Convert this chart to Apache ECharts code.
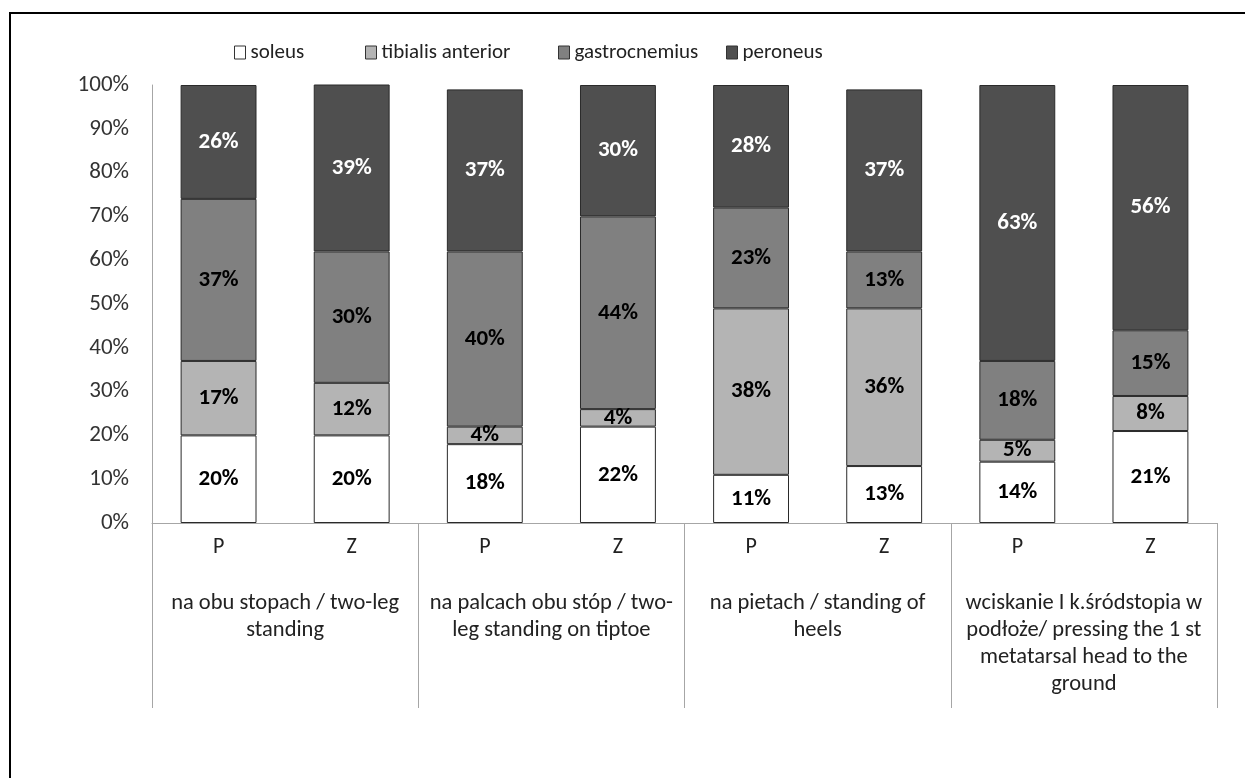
<!DOCTYPE html>
<html>
<head>
<meta charset="utf-8">
<script src="https://cdn.jsdelivr.net/npm/echarts@6/dist/echarts.min.js"></script>
<style>
html,body{margin:0;padding:0;background:#fff;}
#c{width:1245px;height:778px;}
</style>
</head>
<body>
<div id="c"></div>
<script>
const sides = ['P', 'Z', 'P', 'Z', 'P', 'Z', 'P', 'Z'];
const groups = [
  'na obu stopach / two-leg\nstanding',
  'na palcach obu stóp / two-\nleg standing on tiptoe',
  'na pietach / standing of\nheels',
  'wciskanie I k.śródstopia w\npodłoże/ pressing the 1 st\nmetatarsal head to the\nground'
];
const seriesNames = ['soleus', 'tibialis anterior', 'gastrocnemius', 'peroneus'];
const soleus = [20, 20, 18, 22, 11, 13, 14, 21];
const tibialis = [17, 12, 4, 4, 38, 36, 5, 8];
const gastrocnemius = [37, 30, 40, 44, 23, 13, 18, 15];
const peroneus = [26, 39, 37, 30, 28, 37, 63, 56];

const FONT = 'Carlito, Lato, sans-serif';
const colors = ['#ffffff', '#b4b4b4', '#808080', '#4f4f4f'];
const labelColors = ['#000', '#000', '#000', '#fff'];
const values = [soleus, tibialis, gastrocnemius, peroneus];
const legendLefts = [229, 360, 553, 721];

const chart = echarts.init(document.getElementById('c'), null, {renderer: 'canvas'});
chart.setOption({
  backgroundColor: '#fff',
  animation: false,
  graphic: [{
    type: 'rect',
    shape: {x: 10, y: 13, width: 1300, height: 900},
    style: {fill: 'none', stroke: '#000', lineWidth: 2},
    silent: true
  }],
  legend: seriesNames.map((n, i) => ({
    top: 37,
    left: legendLefts[i],
    itemWidth: 11,
    itemHeight: 13,
    icon: 'rect',
    textStyle: {fontFamily: FONT, fontSize: 21, color: '#222', padding: [0, 0, 0, 0]},
    data: [{name: n, itemStyle: {borderColor: '#333', borderWidth: 1}}]
  })),
  grid: {left: 152, right: 28, top: 85, bottom: 255, containLabel: false},
  xAxis: [{
    type: 'category',
    data: sides,
    position: 'bottom',
    axisLine: {show: true, lineStyle: {color: '#a6a6a6', width: 1}},
    axisTick: {show: false},
    axisLabel: {fontFamily: FONT, fontSize: 22, color: '#222', margin: 12, lineHeight: 24}
  }, {
    type: 'category',
    data: groups,
    position: 'bottom',
    axisLine: {show: false},
    axisTick: {show: true, length: 185, lineStyle: {color: '#a6a6a6', width: 1}},
    axisLabel: {fontFamily: FONT, fontSize: 22.5, color: '#222', margin: 67, lineHeight: 27, align: 'center', interval: 0}
  }],
  yAxis: {
    type: 'value',
    min: 0,
    max: 100,
    interval: 10,
    axisLine: {show: true, lineStyle: {color: '#a6a6a6', width: 1}},
    axisTick: {show: false},
    splitLine: {show: false},
    axisLabel: {fontFamily: FONT, fontSize: 23, color: '#333', margin: 23, formatter: '{value}%'}
  },
  series: seriesNames.map((name, i) => ({
    name: name,
    type: 'bar',
    stack: 'total',
    xAxisIndex: 0,
    barCategoryGap: '43%',
    data: values[i],
    itemStyle: {color: colors[i], borderColor: '#2a2a2a', borderWidth: 1},
    label: {
      show: true,
      position: 'inside',
      formatter: '{c}%',
      fontFamily: FONT,
      fontSize: 23,
      fontWeight: 'bold',
      color: labelColors[i]
    }
  }))
});
</script>
</body>
</html>
